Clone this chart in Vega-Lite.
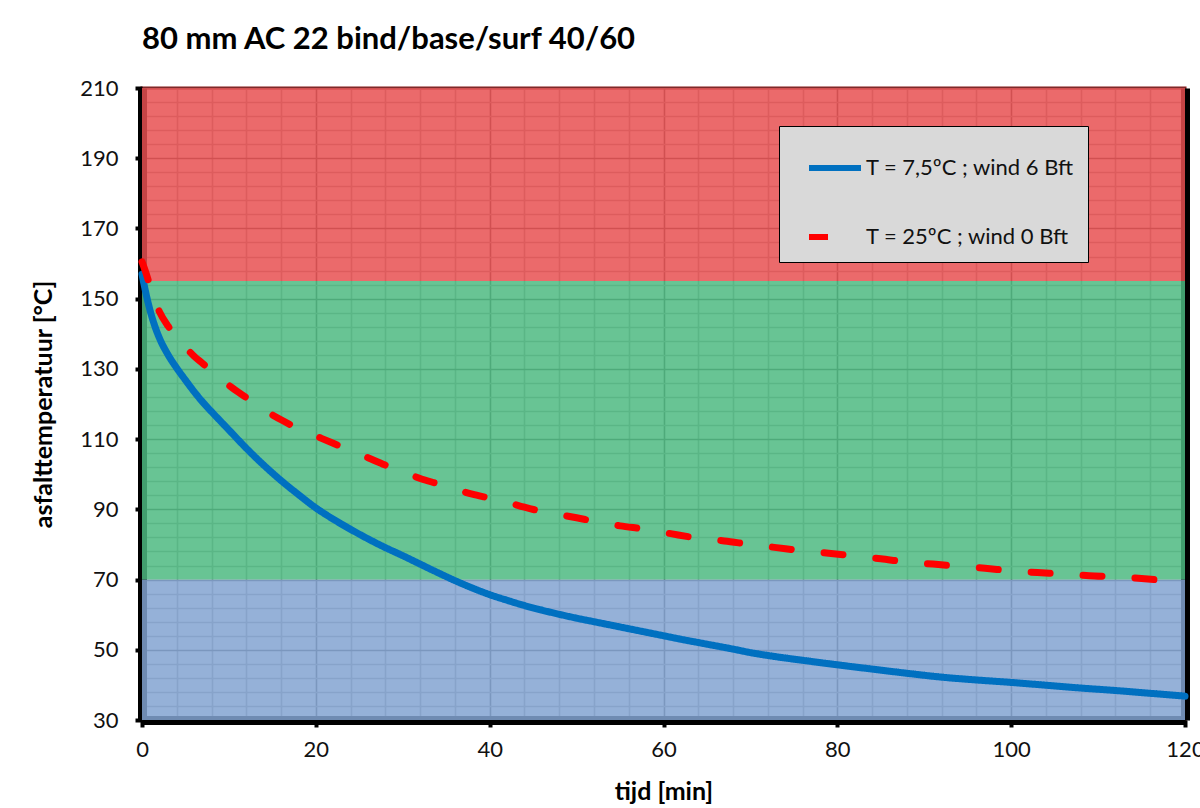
{
  "$schema": "https://vega.github.io/schema/vega-lite/v6.json",
  "width": 1043,
  "height": 632,
  "autosize": {"type": "none"},
  "padding": {"left": 142, "top": 88, "right": 15, "bottom": 88},
  "background": "white",
  "config": {
    "font": "Lato",
    "view": {"stroke": "#8a1c1c", "strokeWidth": 3}
  },
  "title": {
    "text": "80 mm AC 22 bind/base/surf 40/60",
    "anchor": "start",
    "frame": "group",
    "font": "Lato",
    "fontSize": 31,
    "fontWeight": "bold",
    "color": "#000000",
    "offset": 21
  },
  "datasets": {
    "zones": [
      {"zone": "laag", "lo": 30, "hi": 70},
      {"zone": "midden", "lo": 70, "hi": 155},
      {"zone": "hoog", "lo": 155, "hi": 210}
    ],
    "curves": [
      {"serie": "T = 7,5ºC ; wind 6 Bft", "t": 0, "T": 157},
      {"serie": "T = 7,5ºC ; wind 6 Bft", "t": 0.5, "T": 151},
      {"serie": "T = 7,5ºC ; wind 6 Bft", "t": 1, "T": 146},
      {"serie": "T = 7,5ºC ; wind 6 Bft", "t": 1.5, "T": 142},
      {"serie": "T = 7,5ºC ; wind 6 Bft", "t": 2, "T": 138.8},
      {"serie": "T = 7,5ºC ; wind 6 Bft", "t": 3, "T": 134},
      {"serie": "T = 7,5ºC ; wind 6 Bft", "t": 4, "T": 130.2},
      {"serie": "T = 7,5ºC ; wind 6 Bft", "t": 5, "T": 126.8},
      {"serie": "T = 7,5ºC ; wind 6 Bft", "t": 6, "T": 123.5},
      {"serie": "T = 7,5ºC ; wind 6 Bft", "t": 7, "T": 120.5},
      {"serie": "T = 7,5ºC ; wind 6 Bft", "t": 8, "T": 117.8},
      {"serie": "T = 7,5ºC ; wind 6 Bft", "t": 9, "T": 115.2},
      {"serie": "T = 7,5ºC ; wind 6 Bft", "t": 10, "T": 112.6},
      {"serie": "T = 7,5ºC ; wind 6 Bft", "t": 12, "T": 107.4},
      {"serie": "T = 7,5ºC ; wind 6 Bft", "t": 14, "T": 102.6},
      {"serie": "T = 7,5ºC ; wind 6 Bft", "t": 16, "T": 98.2},
      {"serie": "T = 7,5ºC ; wind 6 Bft", "t": 18, "T": 94.2},
      {"serie": "T = 7,5ºC ; wind 6 Bft", "t": 20, "T": 90.4},
      {"serie": "T = 7,5ºC ; wind 6 Bft", "t": 22, "T": 87.2},
      {"serie": "T = 7,5ºC ; wind 6 Bft", "t": 24, "T": 84.3},
      {"serie": "T = 7,5ºC ; wind 6 Bft", "t": 26, "T": 81.6},
      {"serie": "T = 7,5ºC ; wind 6 Bft", "t": 28, "T": 79.1},
      {"serie": "T = 7,5ºC ; wind 6 Bft", "t": 30, "T": 76.8},
      {"serie": "T = 7,5ºC ; wind 6 Bft", "t": 32, "T": 74.4},
      {"serie": "T = 7,5ºC ; wind 6 Bft", "t": 34, "T": 72},
      {"serie": "T = 7,5ºC ; wind 6 Bft", "t": 36, "T": 69.7},
      {"serie": "T = 7,5ºC ; wind 6 Bft", "t": 38, "T": 67.6},
      {"serie": "T = 7,5ºC ; wind 6 Bft", "t": 40, "T": 65.7},
      {"serie": "T = 7,5ºC ; wind 6 Bft", "t": 42, "T": 64.1},
      {"serie": "T = 7,5ºC ; wind 6 Bft", "t": 44, "T": 62.6},
      {"serie": "T = 7,5ºC ; wind 6 Bft", "t": 46, "T": 61.3},
      {"serie": "T = 7,5ºC ; wind 6 Bft", "t": 48, "T": 60.1},
      {"serie": "T = 7,5ºC ; wind 6 Bft", "t": 50, "T": 59},
      {"serie": "T = 7,5ºC ; wind 6 Bft", "t": 52, "T": 58},
      {"serie": "T = 7,5ºC ; wind 6 Bft", "t": 55, "T": 56.5},
      {"serie": "T = 7,5ºC ; wind 6 Bft", "t": 58, "T": 55},
      {"serie": "T = 7,5ºC ; wind 6 Bft", "t": 60, "T": 54},
      {"serie": "T = 7,5ºC ; wind 6 Bft", "t": 62, "T": 53},
      {"serie": "T = 7,5ºC ; wind 6 Bft", "t": 65, "T": 51.6},
      {"serie": "T = 7,5ºC ; wind 6 Bft", "t": 68, "T": 50.2},
      {"serie": "T = 7,5ºC ; wind 6 Bft", "t": 70, "T": 49.2},
      {"serie": "T = 7,5ºC ; wind 6 Bft", "t": 73, "T": 48},
      {"serie": "T = 7,5ºC ; wind 6 Bft", "t": 76, "T": 47},
      {"serie": "T = 7,5ºC ; wind 6 Bft", "t": 80, "T": 45.7},
      {"serie": "T = 7,5ºC ; wind 6 Bft", "t": 84, "T": 44.5},
      {"serie": "T = 7,5ºC ; wind 6 Bft", "t": 88, "T": 43.3},
      {"serie": "T = 7,5ºC ; wind 6 Bft", "t": 92, "T": 42.2},
      {"serie": "T = 7,5ºC ; wind 6 Bft", "t": 96, "T": 41.4},
      {"serie": "T = 7,5ºC ; wind 6 Bft", "t": 100, "T": 40.7},
      {"serie": "T = 7,5ºC ; wind 6 Bft", "t": 104, "T": 39.9},
      {"serie": "T = 7,5ºC ; wind 6 Bft", "t": 108, "T": 39.1},
      {"serie": "T = 7,5ºC ; wind 6 Bft", "t": 112, "T": 38.4},
      {"serie": "T = 7,5ºC ; wind 6 Bft", "t": 116, "T": 37.6},
      {"serie": "T = 7,5ºC ; wind 6 Bft", "t": 120, "T": 36.8},
      {"serie": "T = 25ºC ; wind 0 Bft", "t": 0, "T": 160.5},
      {"serie": "T = 25ºC ; wind 0 Bft", "t": 0.5, "T": 157},
      {"serie": "T = 25ºC ; wind 0 Bft", "t": 1, "T": 153},
      {"serie": "T = 25ºC ; wind 0 Bft", "t": 2, "T": 146.3},
      {"serie": "T = 25ºC ; wind 0 Bft", "t": 3, "T": 142.2},
      {"serie": "T = 25ºC ; wind 0 Bft", "t": 4, "T": 139.2},
      {"serie": "T = 25ºC ; wind 0 Bft", "t": 5, "T": 136.2},
      {"serie": "T = 25ºC ; wind 0 Bft", "t": 6, "T": 133.6},
      {"serie": "T = 25ºC ; wind 0 Bft", "t": 7, "T": 131.5},
      {"serie": "T = 25ºC ; wind 0 Bft", "t": 8, "T": 129.3},
      {"serie": "T = 25ºC ; wind 0 Bft", "t": 9, "T": 127.3},
      {"serie": "T = 25ºC ; wind 0 Bft", "t": 10, "T": 125.3},
      {"serie": "T = 25ºC ; wind 0 Bft", "t": 12, "T": 121.8},
      {"serie": "T = 25ºC ; wind 0 Bft", "t": 14, "T": 118.4},
      {"serie": "T = 25ºC ; wind 0 Bft", "t": 16, "T": 115.5},
      {"serie": "T = 25ºC ; wind 0 Bft", "t": 18, "T": 113},
      {"serie": "T = 25ºC ; wind 0 Bft", "t": 20, "T": 110.9},
      {"serie": "T = 25ºC ; wind 0 Bft", "t": 22, "T": 108.8},
      {"serie": "T = 25ºC ; wind 0 Bft", "t": 24, "T": 106.8},
      {"serie": "T = 25ºC ; wind 0 Bft", "t": 26, "T": 104.7},
      {"serie": "T = 25ºC ; wind 0 Bft", "t": 28, "T": 102.6},
      {"serie": "T = 25ºC ; wind 0 Bft", "t": 30, "T": 100.7},
      {"serie": "T = 25ºC ; wind 0 Bft", "t": 32, "T": 98.8},
      {"serie": "T = 25ºC ; wind 0 Bft", "t": 34, "T": 97.3},
      {"serie": "T = 25ºC ; wind 0 Bft", "t": 36, "T": 95.8},
      {"serie": "T = 25ºC ; wind 0 Bft", "t": 38, "T": 94.3},
      {"serie": "T = 25ºC ; wind 0 Bft", "t": 40, "T": 93.2},
      {"serie": "T = 25ºC ; wind 0 Bft", "t": 42, "T": 92},
      {"serie": "T = 25ºC ; wind 0 Bft", "t": 44, "T": 90.6},
      {"serie": "T = 25ºC ; wind 0 Bft", "t": 46, "T": 89.4},
      {"serie": "T = 25ºC ; wind 0 Bft", "t": 48, "T": 88.5},
      {"serie": "T = 25ºC ; wind 0 Bft", "t": 50, "T": 87.6},
      {"serie": "T = 25ºC ; wind 0 Bft", "t": 52, "T": 86.6},
      {"serie": "T = 25ºC ; wind 0 Bft", "t": 55, "T": 85.3},
      {"serie": "T = 25ºC ; wind 0 Bft", "t": 58, "T": 84.3},
      {"serie": "T = 25ºC ; wind 0 Bft", "t": 61, "T": 83},
      {"serie": "T = 25ºC ; wind 0 Bft", "t": 64, "T": 81.8},
      {"serie": "T = 25ºC ; wind 0 Bft", "t": 67, "T": 81},
      {"serie": "T = 25ºC ; wind 0 Bft", "t": 70, "T": 80},
      {"serie": "T = 25ºC ; wind 0 Bft", "t": 73, "T": 79.1},
      {"serie": "T = 25ºC ; wind 0 Bft", "t": 76, "T": 78.2},
      {"serie": "T = 25ºC ; wind 0 Bft", "t": 79, "T": 77.5},
      {"serie": "T = 25ºC ; wind 0 Bft", "t": 82, "T": 76.7},
      {"serie": "T = 25ºC ; wind 0 Bft", "t": 85, "T": 75.9},
      {"serie": "T = 25ºC ; wind 0 Bft", "t": 88, "T": 75},
      {"serie": "T = 25ºC ; wind 0 Bft", "t": 91, "T": 74.4},
      {"serie": "T = 25ºC ; wind 0 Bft", "t": 94, "T": 73.8},
      {"serie": "T = 25ºC ; wind 0 Bft", "t": 97, "T": 73.2},
      {"serie": "T = 25ºC ; wind 0 Bft", "t": 100, "T": 72.5},
      {"serie": "T = 25ºC ; wind 0 Bft", "t": 103, "T": 72},
      {"serie": "T = 25ºC ; wind 0 Bft", "t": 106, "T": 71.6},
      {"serie": "T = 25ºC ; wind 0 Bft", "t": 109, "T": 71.1},
      {"serie": "T = 25ºC ; wind 0 Bft", "t": 112, "T": 70.8},
      {"serie": "T = 25ºC ; wind 0 Bft", "t": 115, "T": 70.3},
      {"serie": "T = 25ºC ; wind 0 Bft", "t": 118, "T": 69.6},
      {"serie": "T = 25ºC ; wind 0 Bft", "t": 120, "T": 69.1}
    ]
  },
  "layer": [
    {
      "data": {"name": "zones"},
      "mark": {"type": "rect", "opacity": 0.85},
      "encoding": {
        "x": {
          "datum": 0,
          "type": "quantitative",
          "scale": {"domain": [0, 120], "nice": false, "zero": false},
          "axis": {
            "title": "tijd [min]",
            "values": [0, 4, 8, 12, 16, 20, 24, 28, 32, 36, 40, 44, 48, 52, 56, 60, 64, 68, 72, 76, 80, 84, 88, 92, 96, 100, 104, 108, 112, 116, 120],
            "labelExpr": "datum.value % 20 === 0 ? datum.label : ''",
            "labelOverlap": false,
            "labelFlush": false,
            "labelFont": "Lato",
            "labelFontSize": 22,
            "labelColor": "#111111",
            "labelPadding": 12,
            "tickColor": {"condition": {"test": "datum.value % 20 === 0", "value": "#000000"}, "value": "transparent"},
            "tickSize": 7,
            "tickWidth": 4,
            "domainColor": "#000000",
            "domainWidth": 9,
            "grid": true,
            "gridColor": {"condition": {"test": "datum.value % 20 === 0", "value": "#555555"}, "value": "#a0a0a0"},
            "gridWidth": 1.6,
            "titleFont": "Lato",
            "titleFontSize": 25,
            "titleFontWeight": "bold",
            "titleColor": "#000000",
            "titlePadding": 19
          }
        },
        "x2": {"datum": 120},
        "y": {
          "field": "lo",
          "type": "quantitative",
          "scale": {"domain": [30, 210], "nice": false, "zero": false},
          "axis": {
            "title": "asfalttemperatuur [°C]",
            "values": [30, 34, 38, 42, 46, 50, 54, 58, 62, 66, 70, 74, 78, 82, 86, 90, 94, 98, 102, 106, 110, 114, 118, 122, 126, 130, 134, 138, 142, 146, 150, 154, 158, 162, 166, 170, 174, 178, 182, 186, 190, 194, 198, 202, 206, 210],
            "labelExpr": "(datum.value - 30) % 20 === 0 ? datum.label : ''",
            "labelOverlap": false,
            "labelFlush": false,
            "labelFont": "Lato",
            "labelFontSize": 22,
            "labelColor": "#111111",
            "labelPadding": 17,
            "tickColor": {"condition": {"test": "(datum.value - 30) % 20 === 0", "value": "#000000"}, "value": "transparent"},
            "tickSize": 7,
            "tickWidth": 4,
            "domainColor": "#000000",
            "domainWidth": 9,
            "grid": true,
            "gridColor": {"condition": {"test": "(datum.value - 30) % 20 === 0", "value": "#555555"}, "value": "#a0a0a0"},
            "gridWidth": 1.6,
            "titleFont": "Lato",
            "titleFontSize": 25,
            "titleFontWeight": "bold",
            "titleColor": "#000000",
            "titlePadding": 23
          }
        },
        "y2": {"field": "hi"},
        "fill": {
          "field": "zone",
          "type": "nominal",
          "scale": {"domain": ["laag", "midden", "hoog"], "range": ["#82A3D1", "#4DBA81", "#E85051"]},
          "legend": null
        }
      }
    },
    {
      "data": {"name": "curves"},
      "mark": {"type": "line", "strokeWidth": 7, "strokeCap": "round", "strokeJoin": "round", "interpolate": "monotone"},
      "encoding": {
        "x": {
          "field": "t",
          "type": "quantitative",
          "axis": {
            "title": "tijd [min]",
            "values": [0, 4, 8, 12, 16, 20, 24, 28, 32, 36, 40, 44, 48, 52, 56, 60, 64, 68, 72, 76, 80, 84, 88, 92, 96, 100, 104, 108, 112, 116, 120],
            "labelExpr": "datum.value % 20 === 0 ? datum.label : ''",
            "labelOverlap": false,
            "labelFlush": false,
            "labelFont": "Lato",
            "labelFontSize": 22,
            "labelColor": "#111111",
            "labelPadding": 12,
            "tickColor": {"condition": {"test": "datum.value % 20 === 0", "value": "#000000"}, "value": "transparent"},
            "tickSize": 7,
            "tickWidth": 4,
            "domainColor": "#000000",
            "domainWidth": 9,
            "grid": true,
            "gridColor": {"condition": {"test": "datum.value % 20 === 0", "value": "#555555"}, "value": "#a0a0a0"},
            "gridWidth": 1.6,
            "titleFont": "Lato",
            "titleFontSize": 25,
            "titleFontWeight": "bold",
            "titleColor": "#000000",
            "titlePadding": 19
          }
        },
        "y": {
          "field": "T",
          "type": "quantitative",
          "axis": {"orient": "right", "title": null, "labels": false, "ticks": false, "grid": false, "domainColor": "#000000", "domainWidth": 9}
        },
        "color": {
          "field": "serie",
          "type": "nominal",
          "scale": {"domain": ["T = 7,5ºC ; wind 6 Bft", "T = 25ºC ; wind 0 Bft"], "range": ["#0070C0", "#FF0000"]},
          "legend": {
            "orient": "none",
            "legendX": 637,
            "legendY": 38,
            "title": null,
            "fillColor": "#D9D9D9",
            "strokeColor": "#000000",
            "padding": 13,
            "symbolType": "stroke",
            "symbolSize": 2704,
            "symbolStrokeWidth": 6,
            "symbolOffset": 14,
            "labelFont": "Lato",
            "labelFontSize": 22,
            "labelColor": "#111111",
            "labelLimit": 400,
            "labelOffset": 2,
            "rowPadding": 28
          }
        },
        "strokeDash": {
          "field": "serie",
          "type": "nominal",
          "scale": {"domain": ["T = 7,5ºC ; wind 6 Bft", "T = 25ºC ; wind 0 Bft"], "range": [[1, 0], [19, 33]]},
          "legend": {
            "orient": "none",
            "legendX": 637,
            "legendY": 38,
            "title": null,
            "fillColor": "#D9D9D9",
            "strokeColor": "#000000",
            "padding": 13,
            "symbolType": "stroke",
            "symbolSize": 2704,
            "symbolStrokeWidth": 6,
            "symbolOffset": 14,
            "labelFont": "Lato",
            "labelFontSize": 22,
            "labelColor": "#111111",
            "labelLimit": 400,
            "labelOffset": 2,
            "rowPadding": 28
          }
        }
      }
    }
  ],
  "resolve": {"axis": {"y": "independent"}}
}
